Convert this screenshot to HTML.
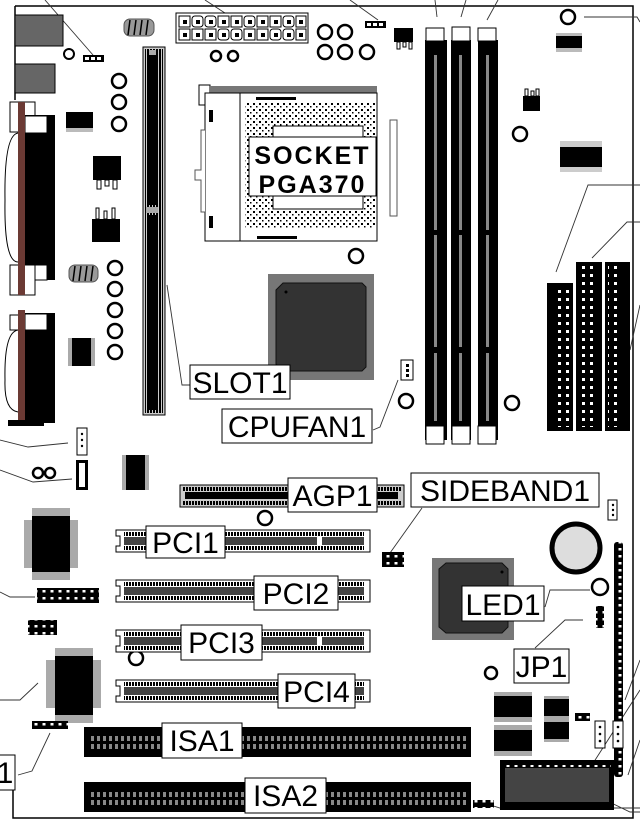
<!DOCTYPE html>
<html><head><meta charset="utf-8"><style>
html,body{margin:0;padding:0;background:#fff;}
svg{display:block;}
text{font-family:"Liberation Sans",sans-serif;}
</style></head><body>
<svg width="640" height="830" viewBox="0 0 640 830" xmlns="http://www.w3.org/2000/svg">
<defs>
<pattern id="tick" width="3" height="6" patternUnits="userSpaceOnUse"><rect width="2" height="6" fill="#000"/></pattern>
<pattern id="dots" width="6" height="6" patternUnits="userSpaceOnUse"><rect x="1" y="1" width="2" height="2" fill="#000"/><rect x="4" y="4" width="1.5" height="1.5" fill="#000"/></pattern>
<pattern id="isa" width="6" height="28" patternUnits="userSpaceOnUse"><rect width="6" height="28" fill="#000"/><rect x="1" y="8" width="3" height="5" fill="#888"/><rect x="1" y="16" width="3" height="5" fill="#888"/></pattern>
<pattern id="ide" width="24" height="8" patternUnits="userSpaceOnUse"><rect width="24" height="8" fill="#000"/><rect x="6" y="2" width="3" height="3" fill="#fff"/><rect x="14" y="2" width="3" height="3" fill="#fff"/></pattern>
<pattern id="hdr" width="8" height="7" patternUnits="userSpaceOnUse"><rect width="8" height="7" fill="#000"/><rect x="2.5" y="2" width="3" height="2.5" fill="#fff"/></pattern>
</defs>
<!-- board outline -->
<path d="M15 6 H633 V818 H13 V790 M15 6 V100" fill="none" stroke="#000" stroke-width="1.5"/>
<!-- leader lines -->
<g stroke="#333" stroke-width="0.9" fill="none">
<path d="M45 0 L93 55"/><path d="M205 0 L228 15"/><path d="M350 0 L378 20"/>
<path d="M435 0 L437 17"/><path d="M466 0 L461 17"/><path d="M498 0 L487 20"/>
<path d="M584 17 H637 L640 22"/><path d="M640 185 H588 L556 272"/><path d="M640 222 H627 L592 258"/>
<path d="M640 305 L630 350"/><path d="M373 430 L380 427 L398 380"/>
<path d="M190 385 H182 L167 285"/><path d="M422 508 L390 553"/>
<path d="M545 607 L550 590 H590"/><path d="M535 648 L565 620 H583"/>
<path d="M0 440 L28 447 L68 443"/><path d="M0 470 L33 482 L72 479"/>
<path d="M0 592 L10 597 H35"/><path d="M0 700 H20 L38 683"/>
<path d="M18 775 L32 771 L50 733"/><path d="M640 660 L625 700"/>
<path d="M640 690 L590 768"/><path d="M640 740 L628 775"/>
<path d="M595 795 L630 812 H640"/><path d="M487 804 L500 808 H640"/>
</g>
<!-- top-left ports -->
<rect x="15" y="15" width="48" height="31" fill="#666" stroke="#000"/>
<rect x="15" y="64" width="40" height="29" fill="#666" stroke="#000"/>
<circle cx="69" cy="54" r="5" fill="none" stroke="#000" stroke-width="2"/>
<rect x="83" y="55" width="21" height="7" fill="#000"/><rect x="85" y="57" width="4" height="3" fill="#fff"/><rect x="91" y="57" width="4" height="3" fill="#fff"/><rect x="97" y="57" width="4" height="3" fill="#fff"/>
<!-- serial/parallel -->
<rect x="10" y="102" width="25" height="30" fill="#fff" stroke="#000"/>
<rect x="25" y="115" width="30" height="165" fill="#000"/>
<rect x="25" y="116" width="22" height="17" fill="#fff" stroke="#000"/>
<rect x="25" y="265" width="22" height="15" fill="#fff" stroke="#000"/>
<rect x="10" y="265" width="25" height="30" fill="#fff" stroke="#000"/>
<path d="M18 133 Q4 135 5 200 Q4 262 18 262" fill="none" stroke="#000"/>
<rect x="18" y="102" width="7" height="193" fill="#6b3a34"/>
<rect x="10" y="315" width="15" height="15" fill="#fff" stroke="#000"/>
<rect x="25" y="313" width="30" height="110" fill="#000"/>
<rect x="25" y="314" width="22" height="16" fill="#fff" stroke="#000"/>
<path d="M18 330 Q4 332 5 380 Q4 410 18 412" fill="none" stroke="#000"/>
<rect x="18" y="310" width="7" height="112" fill="#6b3a34"/>
<rect x="8" y="420" width="36" height="6" fill="#000"/>
<!-- small parts left -->
<rect x="66" y="112" width="27" height="20" fill="#000"/><rect x="66" y="128" width="27" height="4" fill="#bbb"/>
<rect x="93" y="156" width="28" height="24" fill="#000"/>
<rect x="97" y="180" width="4" height="9" fill="#fff" stroke="#000"/><rect x="105" y="180" width="4" height="6" fill="#fff" stroke="#000"/><rect x="113" y="180" width="4" height="9" fill="#fff" stroke="#000"/>
<rect x="92" y="219" width="28" height="23" fill="#000"/>
<rect x="96" y="208" width="3" height="11" fill="#fff" stroke="#000"/><rect x="104" y="211" width="3" height="8" fill="#fff" stroke="#000"/><rect x="112" y="208" width="3" height="11" fill="#fff" stroke="#000"/>
<rect x="68" y="338" width="27" height="28" fill="#000"/><rect x="68" y="338" width="4" height="28" fill="#aaa"/><rect x="91" y="338" width="4" height="28" fill="#aaa"/>
<g fill="#999" stroke="#555"><rect x="124" y="19" width="30" height="17" rx="6"/><rect x="69" y="265" width="29" height="17" rx="6"/></g>
<g stroke="#000" stroke-width="1.5"><path d="M130 20 l-2 15 M136 20 l-2 15 M142 20 l-2 15 M148 20 l-2 15 M75 266 l-2 15 M81 266 l-2 15 M87 266 l-2 15 M93 266 l-2 15"/></g>
<g fill="none" stroke="#000" stroke-width="2.5">
<circle cx="119" cy="81" r="7"/><circle cx="119" cy="102" r="7"/><circle cx="119" cy="124" r="7"/>
<circle cx="115" cy="268" r="7"/><circle cx="115" cy="289" r="7"/><circle cx="115" cy="310" r="7"/><circle cx="115" cy="331" r="7"/><circle cx="115" cy="352" r="7"/>
<circle cx="216" cy="56" r="5"/><circle cx="233" cy="56" r="5"/>
<circle cx="325" cy="32" r="7"/><circle cx="345" cy="32" r="7"/><circle cx="325" cy="52" r="7"/><circle cx="345" cy="52" r="7"/><circle cx="367" cy="52" r="7"/>
<circle cx="568" cy="17" r="7"/><circle cx="520" cy="134" r="7"/><circle cx="356" cy="256" r="7"/>
<circle cx="406" cy="401" r="7"/><circle cx="512" cy="403" r="7"/><circle cx="265" cy="518" r="7"/><circle cx="136" cy="658" r="7"/>
<circle cx="491" cy="673" r="6"/><circle cx="600" cy="587" r="8"/>
<circle cx="38" cy="473" r="5"/><circle cx="50" cy="473" r="5"/>
</g>
<!-- Slot1 -->
<rect x="143" y="47" width="22" height="368" fill="#ccc" stroke="#000"/>
<rect x="145" y="49" width="18" height="364" fill="url(#tick)"/>
<rect x="148" y="55" width="8" height="150" fill="#000"/><rect x="148" y="215" width="8" height="195" fill="#000"/>
<rect x="149" y="50" width="7" height="5" fill="#aaa"/><rect x="146" y="207" width="12" height="6" fill="#aaa"/>
<!-- ATX -->
<rect x="176" y="13" width="132" height="30" fill="#fff" stroke="#000"/>
<g fill="#fff" stroke="#000">
<rect x="179" y="16" width="11" height="11"/><rect x="192" y="16" width="11" height="11" rx="3"/><rect x="205" y="16" width="11" height="11" rx="3"/><rect x="218" y="16" width="11" height="11"/><rect x="231" y="16" width="11" height="11"/><rect x="244" y="16" width="11" height="11" rx="3"/><rect x="257" y="16" width="11" height="11"/><rect x="270" y="16" width="11" height="11"/><rect x="283" y="16" width="11" height="11" rx="3"/><rect x="296" y="16" width="10" height="11"/>
<rect x="179" y="29" width="11" height="11"/><rect x="192" y="29" width="11" height="11"/><rect x="205" y="29" width="11" height="11"/><rect x="218" y="29" width="11" height="11" rx="3"/><rect x="231" y="29" width="11" height="11" rx="3"/><rect x="244" y="29" width="11" height="11"/><rect x="257" y="29" width="11" height="11"/><rect x="270" y="29" width="11" height="11" rx="3"/><rect x="283" y="29" width="11" height="11" rx="3"/><rect x="296" y="29" width="10" height="11"/>
</g>
<g fill="#000"><rect x="183" y="20" width="4" height="4"/><rect x="196" y="20" width="4" height="4"/><rect x="209" y="20" width="4" height="4"/><rect x="222" y="20" width="4" height="4"/><rect x="235" y="20" width="4" height="4"/><rect x="248" y="20" width="4" height="4"/><rect x="261" y="20" width="4" height="4"/><rect x="274" y="20" width="4" height="4"/><rect x="287" y="20" width="4" height="4"/><rect x="299" y="20" width="4" height="4"/>
<rect x="183" y="33" width="4" height="4"/><rect x="196" y="33" width="4" height="4"/><rect x="209" y="33" width="4" height="4"/><rect x="222" y="33" width="4" height="4"/><rect x="235" y="33" width="4" height="4"/><rect x="248" y="33" width="4" height="4"/><rect x="261" y="33" width="4" height="4"/><rect x="274" y="33" width="4" height="4"/><rect x="287" y="33" width="4" height="4"/><rect x="299" y="33" width="4" height="4"/></g>
<!-- jumper/fan tops -->
<rect x="365" y="21" width="21" height="7" fill="#000"/><rect x="367" y="23" width="4" height="3" fill="#fff"/><rect x="373" y="23" width="4" height="3" fill="#fff"/><rect x="379" y="23" width="4" height="3" fill="#fff"/>
<rect x="394" y="28" width="19" height="14" fill="#000"/><rect x="397" y="42" width="3" height="7" fill="#fff" stroke="#000"/><rect x="403" y="42" width="3" height="5" fill="#fff" stroke="#000"/><rect x="409" y="42" width="3" height="7" fill="#fff" stroke="#000"/>
<rect x="523" y="96" width="17" height="15" fill="#000"/><rect x="525" y="89" width="3" height="7" fill="#fff" stroke="#000"/><rect x="531" y="91" width="3" height="5" fill="#fff" stroke="#000"/><rect x="536" y="89" width="3" height="7" fill="#fff" stroke="#000"/>
<rect x="556" y="33" width="26" height="19" fill="#000"/><rect x="556" y="33" width="26" height="3" fill="#bbb"/><rect x="556" y="48" width="26" height="4" fill="#bbb"/>
<rect x="560" y="141" width="42" height="31" fill="#000"/><rect x="560" y="141" width="42" height="6" fill="#ccc"/><rect x="560" y="167" width="42" height="5" fill="#ccc"/>
<!-- socket -->
<rect x="199" y="85" width="11" height="20" fill="#fff" stroke="#000"/>
<rect x="210" y="86" width="167" height="7" fill="#777"/>
<rect x="205" y="93" width="172" height="148" fill="#fff" stroke="#000"/>
<line x1="240" y1="93" x2="240" y2="241" stroke="#000"/>
<rect x="245" y="103" width="130" height="125" fill="url(#dots)"/>
<rect x="273" y="126" width="90" height="83" fill="#fff" stroke="#000"/>
<rect x="256" y="97" width="40" height="3" fill="#000"/><rect x="257" y="236" width="40" height="3" fill="#000"/>
<rect x="209" y="110" width="4" height="12" fill="#000"/><rect x="209" y="216" width="4" height="12" fill="#000"/>
<path d="M205 130 H201 V170 H195 V180 H201 V212 H205" fill="#fff" stroke="#555"/>
<rect x="390" y="120" width="7" height="96" fill="#fff" stroke="#555"/>
<rect x="249" y="137" width="127" height="59" fill="#fff" stroke="#000"/>
<text x="312.5" y="164" text-anchor="middle" font-size="25" font-weight="bold" letter-spacing="2">SOCKET</text>
<text x="312.5" y="193" text-anchor="middle" font-size="25" font-weight="bold" letter-spacing="2">PGA370</text>
<!-- north bridge -->
<rect x="268" y="274" width="106" height="106" fill="#777"/>
<path d="M283 283 H362 L366 287 V367 L362 371 H283 L276 364 V290 Z" fill="#333" stroke="#111"/>
<circle cx="286" cy="292" r="1.5" fill="#000"/>
<!-- DIMMs -->
<g>
<rect x="425" y="40" width="22" height="400" fill="#000"/><rect x="451" y="40" width="20" height="400" fill="#000"/><rect x="478" y="40" width="20" height="400" fill="#000"/>
<rect x="426" y="28" width="18" height="13" fill="#fff" stroke="#000"/><rect x="452" y="27" width="18" height="14" fill="#fff" stroke="#000"/><rect x="478" y="28" width="18" height="13" fill="#fff" stroke="#000"/>
<rect x="426" y="426" width="18" height="18" fill="#fff" stroke="#000"/><rect x="452" y="426" width="18" height="18" fill="#fff" stroke="#000"/><rect x="478" y="426" width="18" height="18" fill="#fff" stroke="#000"/>
<g fill="#888"><rect x="434" y="55" width="3" height="175"/><rect x="459" y="55" width="3" height="175"/><rect x="486" y="55" width="3" height="175"/>
<rect x="434" y="235" width="3" height="112"/><rect x="459" y="235" width="3" height="112"/><rect x="486" y="235" width="3" height="112"/>
<rect x="434" y="353" width="3" height="68"/><rect x="459" y="353" width="3" height="68"/><rect x="486" y="353" width="3" height="68"/></g>
</g>
<!-- IDE / FDD -->
<rect x="547" y="283" width="26" height="148" fill="#000"/><rect x="550" y="287" width="20" height="140" fill="url(#ide)"/>
<rect x="576" y="262" width="26" height="169" fill="#000"/><rect x="579" y="266" width="20" height="161" fill="url(#ide)"/>
<rect x="605" y="262" width="25" height="169" fill="#000"/><rect x="608" y="266" width="19" height="161" fill="url(#ide)"/>
<!-- CPUFAN header -->
<rect x="401" y="360" width="12" height="20" fill="#fff" stroke="#000"/><rect x="406" y="364" width="3" height="3"/><rect x="406" y="369" width="3" height="3"/><rect x="406" y="374" width="3" height="3"/>
<!-- left headers -->
<rect x="77" y="428" width="10" height="27" fill="#fff" stroke="#000"/><circle cx="82" cy="434" r="1.2"/><circle cx="82" cy="440" r="1.2"/><circle cx="82" cy="446" r="1.2"/>
<rect x="76" y="460" width="12" height="30" fill="#000"/><rect x="79" y="463" width="6" height="24" fill="#fff"/>
<rect x="122" y="455" width="27" height="35" fill="#aaa"/><rect x="126" y="455" width="19" height="35" fill="#000"/>
<rect x="24" y="520" width="54" height="48" fill="#aaa"/><rect x="32" y="508" width="38" height="72" fill="#aaa"/><rect x="32" y="516" width="38" height="56" fill="#000"/>
<rect x="37" y="588" width="62" height="15" fill="url(#hdr)"/>
<rect x="28" y="620" width="29" height="15" fill="url(#hdr)"/>
<rect x="46" y="660" width="55" height="48" fill="#aaa"/><rect x="55" y="648" width="38" height="75" fill="#aaa"/><rect x="55" y="656" width="38" height="59" fill="#000"/>
<rect x="32" y="721" width="36" height="8" fill="url(#hdr)"/>
<!-- AGP -->
<rect x="180" y="485" width="224" height="22" fill="#ccc" stroke="#000"/>
<rect x="183" y="487" width="218" height="4" fill="url(#tick)"/><rect x="183" y="501" width="218" height="4" fill="url(#tick)"/>
<rect x="185" y="492" width="213" height="7" fill="#000"/>
<!-- PCI slots -->
<g id="pci">
<path d="M116 530 H370 V552 H116 V546 H120 V536 H116 Z" fill="#fff" stroke="#000"/>
<rect x="124" y="532" width="240" height="4" fill="url(#tick)"/><rect x="124" y="546" width="240" height="4" fill="url(#tick)"/>
<rect x="124" y="537" width="193" height="8" fill="#444"/><rect x="322" y="537" width="42" height="8" fill="#444"/>
</g>
<use href="#pci" y="50"/><use href="#pci" y="100"/><use href="#pci" y="150"/>
<!-- ISA -->
<rect x="84" y="727" width="387" height="30" fill="#000"/><rect x="88" y="731" width="379" height="22" fill="url(#isa)"/>
<rect x="84" y="782" width="387" height="30" fill="#000"/><rect x="88" y="786" width="379" height="22" fill="url(#isa)"/>
<!-- sideband -->
<rect x="382" y="552" width="22" height="15" fill="url(#hdr)"/>
<!-- south bridge -->
<rect x="432" y="558" width="82" height="82" fill="#777"/>
<path d="M446 563 H502 L508 569 V627 L502 633 H446 L439 627 V569 Z" fill="#333" stroke="#111"/>
<circle cx="502" cy="572" r="1.5" fill="#000"/>
<!-- battery -->
<circle cx="576" cy="548" r="24" fill="#ddd" stroke="#000" stroke-width="5"/>
<rect x="608" y="500" width="9" height="20" fill="#fff" stroke="#000"/><circle cx="613" cy="505" r="1.2"/><circle cx="613" cy="510" r="1.2"/><circle cx="613" cy="515" r="1.2"/>
<rect x="614" y="542" width="9" height="235" rx="3" fill="url(#hdr)"/>
<rect x="596" y="606" width="8" height="22" fill="url(#hdr)"/>
<!-- regulators -->
<rect x="494" y="692" width="38" height="30" fill="#000"/><rect x="494" y="692" width="38" height="4" fill="#aaa"/><rect x="494" y="717" width="38" height="5" fill="#aaa"/>
<rect x="494" y="725" width="38" height="30" fill="#000"/><rect x="494" y="725" width="38" height="5" fill="#aaa"/><rect x="494" y="751" width="38" height="5" fill="#aaa"/>
<rect x="544" y="698" width="25" height="20" fill="#000"/><rect x="544" y="696" width="25" height="3" fill="#aaa"/><rect x="544" y="716" width="25" height="3" fill="#aaa"/>
<rect x="544" y="720" width="25" height="20" fill="#000"/><rect x="544" y="719" width="25" height="3" fill="#aaa"/><rect x="544" y="739" width="25" height="3" fill="#aaa"/>
<rect x="575" y="713" width="15" height="8" fill="url(#hdr)"/>
<rect x="595" y="721" width="10" height="27" fill="#fff" stroke="#000"/><circle cx="600" cy="727" r="1.3"/><circle cx="600" cy="734" r="1.3"/><circle cx="600" cy="741" r="1.3"/>
<rect x="613" y="721" width="10" height="27" fill="#fff" stroke="#000"/><circle cx="618" cy="727" r="1.3"/><circle cx="618" cy="734" r="1.3"/><circle cx="618" cy="741" r="1.3"/>
<!-- BIOS -->
<rect x="500" y="760" width="114" height="50" fill="#000"/><rect x="503" y="763" width="108" height="4" fill="url(#hdr)"/><rect x="503" y="803" width="108" height="4" fill="url(#hdr)"/>
<rect x="505" y="768" width="104" height="34" fill="#444"/>
<rect x="473" y="800" width="21" height="8" fill="url(#hdr)"/>
<!-- labels -->
<g fill="#fff" stroke="#000" stroke-width="1">
<rect x="190" y="365" width="100" height="34"/><rect x="222" y="409" width="150" height="34"/>
<rect x="288" y="478" width="89" height="34"/><rect x="411" y="473" width="188" height="34"/>
<rect x="146" y="526" width="79" height="32"/><rect x="254" y="576" width="84" height="34"/>
<rect x="181" y="625" width="81" height="35"/><rect x="278" y="674" width="77" height="34"/>
<rect x="162" y="723" width="80" height="35"/><rect x="245" y="778" width="81" height="35"/>
<rect x="462" y="586" width="82" height="35"/><rect x="514" y="649" width="55" height="34"/>
<rect x="-5" y="755" width="20" height="35"/>
</g>
<g font-size="30" fill="#000" text-anchor="middle">
<text x="240" y="393">SLOT1</text><text x="297" y="437">CPUFAN1</text>
<text x="332.5" y="506">AGP1</text><text x="505" y="501">SIDEBAND1</text>
<text x="185.5" y="553">PCI1</text><text x="296" y="604">PCI2</text>
<text x="221.5" y="653">PCI3</text><text x="316.5" y="702">PCI4</text>
<text x="202" y="751">ISA1</text><text x="285.5" y="806">ISA2</text>
<text x="503" y="615">LED1</text><text x="541.5" y="677">JP1</text>
<text x="5" y="783">1</text>
</g>
</svg>
</body></html>
